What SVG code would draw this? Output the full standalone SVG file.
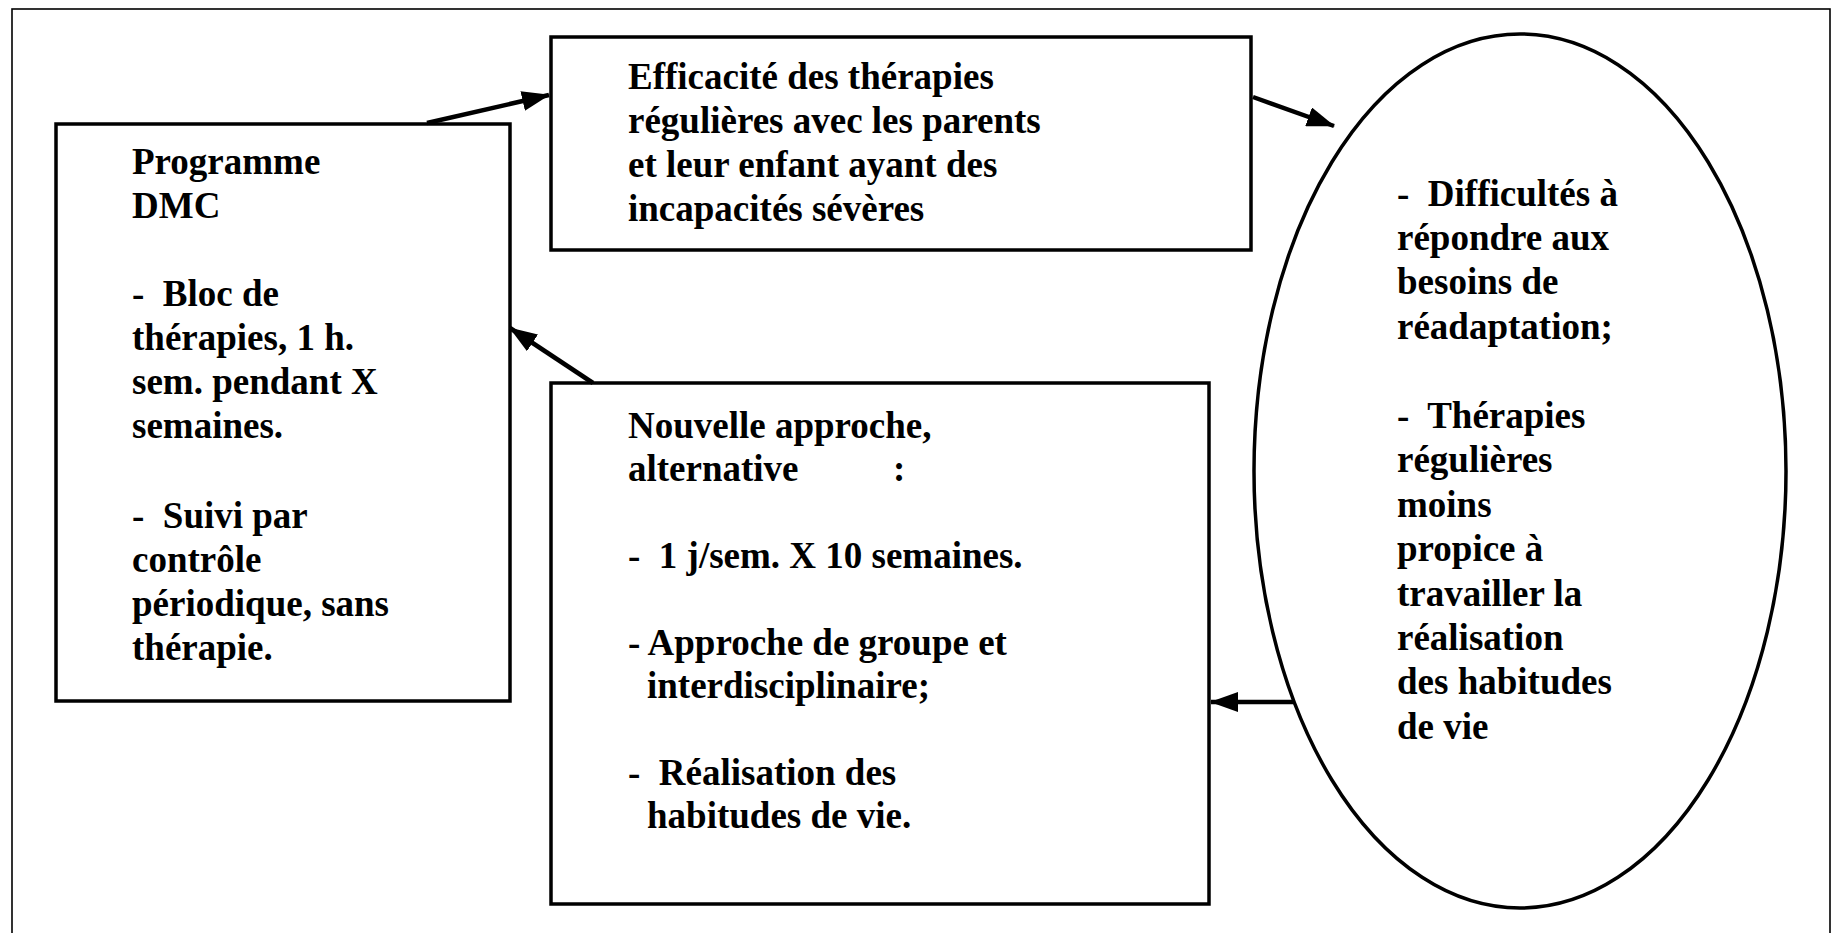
<svg xmlns="http://www.w3.org/2000/svg" width="1833" height="933" viewBox="0 0 1833 933">
<defs>
<style>
.box{fill:#fff;stroke:#000;stroke-width:3.5}
.t{font-family:"Liberation Serif","Times New Roman",serif;font-weight:bold;font-size:37px;fill:#000;white-space:pre}
.c{stroke:#000;stroke-width:4.5;fill:none}
</style>
<marker id="ah" viewBox="0 0 28 20" refX="27" refY="10" markerWidth="28" markerHeight="20" markerUnits="userSpaceOnUse" orient="auto">
<path d="M0,0 L28,10 L0,20 z" fill="#000"/>
</marker>
</defs>
<rect x="0" y="0" width="1833" height="933" fill="#fff"/>
<rect id="frame" x="12" y="9" width="1818" height="940" fill="none" stroke="#000" stroke-width="1.6"/>
<g id="node-programme">
<rect class="box" x="56" y="124" width="454" height="577"/>
<text class="t">
<tspan x="132" y="174">Programme</tspan>
<tspan x="132" y="218">DMC</tspan>
<tspan x="132" y="306">-  Bloc de</tspan>
<tspan x="132" y="350">thérapies, 1 h.</tspan>
<tspan x="132" y="394">sem. pendant X</tspan>
<tspan x="132" y="438">semaines.</tspan>
<tspan x="132" y="528">-  Suivi par</tspan>
<tspan x="132" y="572">contrôle</tspan>
<tspan x="132" y="616">périodique, sans</tspan>
<tspan x="132" y="660">thérapie.</tspan>
</text>
</g>
<g id="node-efficacite">
<rect class="box" x="551" y="37" width="700" height="213"/>
<text class="t">
<tspan x="628" y="89">Efficacité des thérapies</tspan>
<tspan x="628" y="133">régulières avec les parents</tspan>
<tspan x="628" y="177">et leur enfant ayant des</tspan>
<tspan x="628" y="221">incapacités sévères</tspan>
</text>
</g>
<g id="node-nouvelle">
<rect class="box" x="551" y="383" width="658" height="521"/>
<text class="t">
<tspan x="628" y="438">Nouvelle approche,</tspan>
<tspan x="628" y="481">alternative</tspan><tspan x="893" y="481">:</tspan>
<tspan x="628" y="568">-  1 j/sem. X 10 semaines.</tspan>
<tspan x="628" y="655">- Approche de groupe et</tspan>
<tspan x="647" y="698">interdisciplinaire;</tspan>
<tspan x="628" y="785">-  Réalisation des</tspan>
<tspan x="647" y="828">habitudes de vie.</tspan>
</text>
</g>
<g id="node-difficultes">
<ellipse class="box" cx="1520" cy="471" rx="266" ry="437"/>
<text class="t">
<tspan x="1397" y="206">-  Difficultés à</tspan>
<tspan x="1397" y="250">répondre aux</tspan>
<tspan x="1397" y="294">besoins de</tspan>
<tspan x="1397" y="339">réadaptation;</tspan>
<tspan x="1397" y="428">-  Thérapies</tspan>
<tspan x="1397" y="472">régulières</tspan>
<tspan x="1397" y="517">moins</tspan>
<tspan x="1397" y="561">propice à</tspan>
<tspan x="1397" y="606">travailler la</tspan>
<tspan x="1397" y="650">réalisation</tspan>
<tspan x="1397" y="694">des habitudes</tspan>
<tspan x="1397" y="739">de vie</tspan>
</text>
</g>
<g id="connectors">
<line class="c" x1="427" y1="123" x2="549" y2="95" marker-end="url(#ah)"/>
<line class="c" x1="1253" y1="97" x2="1334" y2="126" marker-end="url(#ah)"/>
<line class="c" x1="1294" y1="702" x2="1211" y2="702" stroke-width="3.5" marker-end="url(#ah)"/>
<line class="c" x1="593" y1="383" x2="510" y2="328" marker-end="url(#ah)"/>
</g>
</svg>
